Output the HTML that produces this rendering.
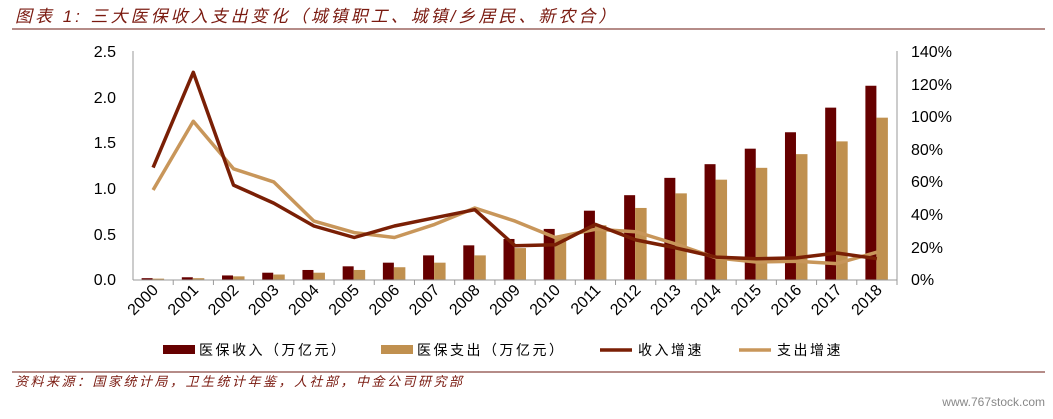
<!DOCTYPE html>
<html><head><meta charset="utf-8"><style>
body{margin:0;background:#fff;}
svg text{font-family:"Liberation Sans","Noto Sans CJK SC",sans-serif;}
</style></head><body>
<svg width="1053" height="414" xmlns="http://www.w3.org/2000/svg">
<text x="15" y="22" font-size="17" font-style="italic" letter-spacing="3" fill="#7a1a10" font-family="Liberation Serif,'Noto Serif CJK SC',serif">图表 1: 三大医保收入支出变化（城镇职工、城镇/乡居民、新农合）</text>
<line x1="12" y1="29" x2="1045" y2="29" stroke="#6b1a10" stroke-width="1"/>
<g id="bars"></g>
<line x1="133" y1="51" x2="133" y2="280" stroke="#999"/>
<line x1="897" y1="51" x2="897" y2="280" stroke="#999"/>
<line x1="133" y1="280" x2="897" y2="280" stroke="#999"/>
<g font-size="16" fill="#000" text-anchor="end">
<text x="116" y="57">2.5</text><text x="116" y="103">2.0</text><text x="116" y="148">1.5</text><text x="116" y="194">1.0</text><text x="116" y="240">0.5</text><text x="116" y="285">0.0</text>
</g>
<g font-size="16" fill="#000">
<text x="911" y="57">140%</text><text x="911" y="90">120%</text><text x="911" y="122">100%</text><text x="911" y="155">80%</text><text x="911" y="187">60%</text><text x="911" y="220">40%</text><text x="911" y="253">20%</text><text x="911" y="285">0%</text>
</g>
<g id="rest"></g>
<rect x="163" y="345" width="32" height="9" fill="#660000"/>
<text x="199" y="355" font-size="14" letter-spacing="2.5">医保收入（万亿元）</text>
<rect x="381" y="345" width="32" height="9" fill="#c0904f"/>
<text x="417" y="355" font-size="14" letter-spacing="2.5">医保支出（万亿元）</text>
<line x1="600" y1="350" x2="632" y2="350" stroke="#7a1f05" stroke-width="3.5"/>
<text x="638" y="355" font-size="14" letter-spacing="2.5">收入增速</text>
<line x1="739" y1="350" x2="771" y2="350" stroke="#c8965a" stroke-width="3.5"/>
<text x="777" y="355" font-size="14" letter-spacing="2.5">支出增速</text>
<line x1="12" y1="372" x2="1045" y2="372" stroke="#6b1a10" stroke-width="1"/>
<text x="15" y="386" font-size="13" font-style="italic" letter-spacing="2.5" fill="#7a1a10" font-family="Liberation Serif,'Noto Serif CJK SC',serif">资料来源：国家统计局，卫生统计年鉴，人社部，中金公司研究部</text>
<text x="1045" y="406" font-size="12" fill="#888" text-anchor="end" font-family="Liberation Serif,serif">www.767stock.com</text>
</svg>
<script>
var inc=[.02,.03,.05,.08,.11,.15,.19,.27,.38,.45,.56,.76,.93,1.12,1.27,1.44,1.62,1.89,2.13];
var sp=[.015,.02,.04,.06,.08,.11,.14,.19,.27,.35,.47,.6,.79,.95,1.1,1.23,1.38,1.52,1.78];
var gi=[68.7,127,58,47,33,26,33,38,43,21,21.5,34,24.5,19.6,14,13,13.5,16.5,13];
var gs=[55,97,68,60,36,29,26,34,44,36,26,31,29.5,22,13.5,11,11.5,10,17];
var ns="http://www.w3.org/2000/svg",svg=document.querySelector("svg");
var bars=document.getElementById("bars"),rest=document.getElementById("rest");
function el(p,t,a){var e=document.createElementNS(ns,t);for(var k in a)e.setAttribute(k,a[k]);p.appendChild(e);return e;}
var step=764/19;
for(var i=0;i<19;i++){
 var c=133+step*(i+0.5);
 var h=inc[i]*91.2;el(bars,"rect",{x:c-11.5,y:280-h,width:11,height:h,fill:"#660000"});
 h=sp[i]*91.2;el(bars,"rect",{x:c-0.5,y:280-h,width:11.5,height:h,fill:"#c0904f"});
 el(rest,"line",{x1:133+step*(i+1),y1:280,x2:133+step*(i+1),y2:285,stroke:"#999"});
 var t=el(rest,"text",{x:0,y:0,"font-size":16,"text-anchor":"end",transform:"translate("+(c+6)+",291) rotate(-45)"});t.textContent=2000+i;
}
function line(d,col){var p=[];for(var i=0;i<19;i++)p.push((133+step*(i+0.5)).toFixed(1)+","+(280-d[i]*229/140).toFixed(1));
 el(rest,"polyline",{points:p.join(" "),fill:"none",stroke:col,"stroke-width":3.5,"stroke-linejoin":"round"});}
line(gs,"#c8965a");line(gi,"#7a1f05");
</script>
</body></html>
